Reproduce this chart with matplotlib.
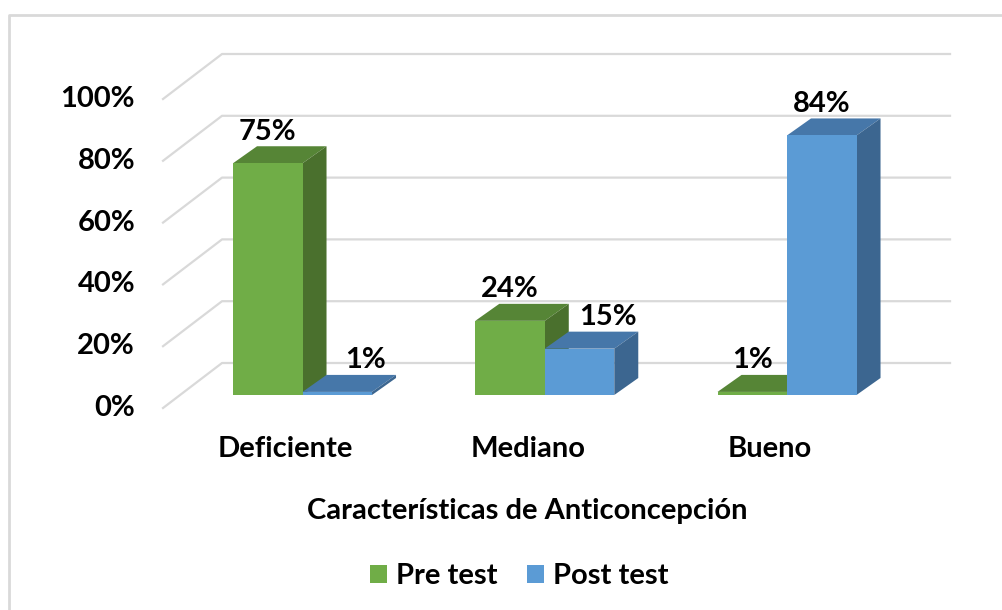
import matplotlib.pyplot as plt
from matplotlib.patches import Polygon, Patch
from matplotlib.lines import Line2D

categories = ['Deficiente', 'Mediano', 'Bueno']
pre_test = [75, 24, 1]
post_test = [1, 15, 84]
series_names = ['Pre test', 'Post test']
y_ticks = [0, 20, 40, 60, 80, 100]
x_title = 'Características de Anticoncepción'

plt.rcParams['font.family'] = ['Lato', 'DejaVu Sans']
plt.rcParams['font.weight'] = 'bold'
FS = 21

# colours: front, top, side
colors = [('#70AD47', '#568536', '#4A702D'),
          ('#5B9BD5', '#4677A9', '#3C6690')]

fig = plt.figure(figsize=(10.02, 6.10), dpi=100)
W, H = 1002, 610
# axes placed so that the front plane of the bars is 0..100 %
ax = fig.add_axes([181.4 / W, (H - 395) / H, 726.75 / W, 309 / H])
ax.set_xlim(-0.5, 2.5)
ax.set_ylim(0, 100)
ax.axis('off')

px_x = 726.75 / 3  # px per category unit
px_y = 3.09        # px per percent

bar_w = 69.5 / px_x
ddx, ddy = 24 / px_x, 17 / px_y          # bar depth
wall_fy = -13 / px_y   # side wall front edge
wall_by = 32 / px_y    # back wall
left_front = (163 - 302.5) / px_x
left_back = (222 - 302.5) / px_x
right_end = (950 - 302.5) / px_x

# wall gridlines (side wall diagonal + back wall)
for v in y_ticks:
    ax.plot([left_front, left_back, right_end],
            [v + wall_fy, v + wall_by, v + wall_by],
            color='#d9d9d9', lw=1.6, clip_on=False, zorder=1)
    ax.text((135 - 302.5) / px_x, v + wall_fy, f'{v}%', ha='right',
            va='center', fontsize=FS, clip_on=False)

label_dx = [[0, 28], [0, 28], [0, 0]]  # px shifts used in the original labels

for i in range(len(categories)):
    for s, vals in enumerate([pre_test, post_test]):
        v = vals[i]
        front, top, side = colors[s]
        x0 = i + (s - 1) * bar_w
        z = 3 + i * 2 + s
        ax.bar(x0, v, width=bar_w, align='edge', color=front,
               linewidth=0, zorder=z + 0.2)
        ax.add_patch(Polygon([(x0, v), (x0 + bar_w, v),
                              (x0 + bar_w + ddx, v + ddy), (x0 + ddx, v + ddy)],
                             closed=True, facecolor=top, lw=0, zorder=z,
                             clip_on=False))
        ax.add_patch(Polygon([(x0 + bar_w, 0), (x0 + bar_w + ddx, ddy),
                              (x0 + bar_w + ddx, v + ddy), (x0 + bar_w, v)],
                             closed=True, facecolor=side, lw=0, zorder=z,
                             clip_on=False))
        ax.text(x0 + bar_w / 2 + label_dx[i][s] / px_x, v + ddy + 0.5,
                f'{v}%', ha='center', va='bottom', fontsize=FS, zorder=20,
                clip_on=False)
    ax.text(i - 17 / px_x, -54 / px_y, categories[i], ha='center',
            va='center', fontsize=FS, clip_on=False)

fig.text(527 / W, 1 - 511 / H, x_title, ha='center', va='center', fontsize=FS)

handles = [Patch(facecolor=colors[k][0], edgecolor='none') for k in range(2)]
fig.legend(handles, series_names, loc='center', bbox_to_anchor=(519 / W, 1 - 576 / H),
           ncol=2, frameon=False, fontsize=FS, handlelength=0.58,
           handleheight=0.58, handletextpad=0.32, columnspacing=1.0)

# chart border (top and left visible)
fig.add_artist(Line2D([9 / W, 9 / W, 1], [0, 1 - 15 / H, 1 - 15 / H],
                      color='#d9d9d9', lw=2, transform=fig.transFigure))

fig.savefig('out.png', dpi=100, facecolor='white')
